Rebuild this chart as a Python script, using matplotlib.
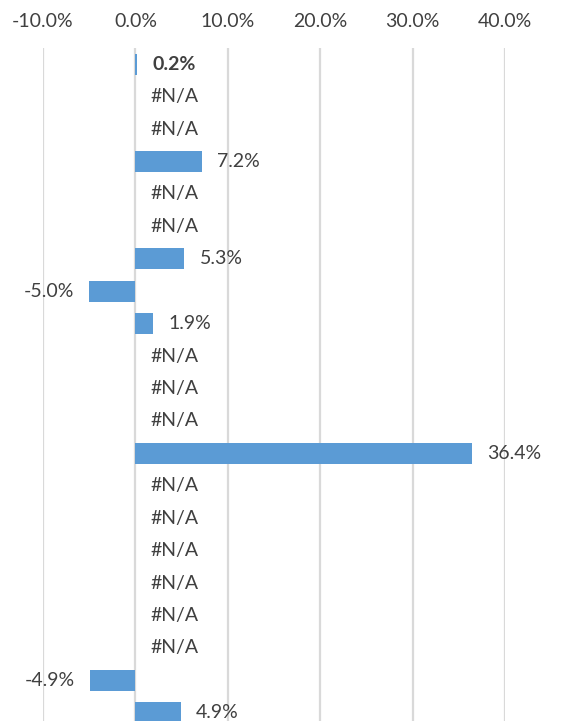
import numpy as np
import matplotlib
matplotlib.use("Agg")
import matplotlib.pyplot as plt
from matplotlib.ticker import FuncFormatter

# values in percent, None = #N/A
values = [0.2, None, None, 7.2, None, None, 5.3, -5.0, 1.9, None, None, None,
          36.4, None, None, None, None, None, None, -4.9, 4.9]
bold_rows = [0]
x_ticks = [-10, 0, 10, 20, 30, 40]

BAR_COLOR = '#5B9BD5'
TEXT_COLOR = '#404040'
GRID_COLOR = '#D9D9D9'

plt.rcParams['font.family'] = ['Lato', 'DejaVu Sans']

fig = plt.figure(figsize=(5.61, 7.21), dpi=100)
W, H = 561, 721
# plot area in pixels: x 43..505, y 48..729 (bottom runs off the picture)
ax = fig.add_axes([43 / W, 1 - 729 / H, (505 - 43) / W, (729 - 48) / H])

n = len(values)
y = np.arange(n)
vals = np.array([np.nan if v is None else v for v in values])
ax.barh(y, np.nan_to_num(vals), height=0.66, color=BAR_COLOR, zorder=3)

for i, v in enumerate(values):
    if v is None:
        txt, xv, ha, off = '#N/A', 0, 'left', 11
    elif v < 0:
        txt, xv, ha, off = f'{v:.1f}%', v, 'right', -11
    else:
        txt, xv, ha, off = f'{v:.1f}%', v, 'left', 11
    ax.annotate(txt, (xv, i), xytext=(off, 0), textcoords='offset points',
                ha=ha, va='center', fontsize=14, color=TEXT_COLOR,
                fontweight='bold' if i in bold_rows else 'normal')

ax.set_xlim(-10, 40)
ax.set_ylim(n - 0.5, -0.5)
ax.set_xticks(x_ticks)
ax.xaxis.set_major_formatter(FuncFormatter(lambda v, p: f'{v:.1f}%'))
ax.xaxis.tick_top()
ax.tick_params(axis='x', length=0, pad=13, labelsize=14, labelcolor=TEXT_COLOR)
ax.set_yticks([])
ax.grid(axis='x', color=GRID_COLOR, linewidth=1.6, zorder=0)
for s in ax.spines.values():
    s.set_visible(False)

fig.savefig('out.png', dpi=100)
